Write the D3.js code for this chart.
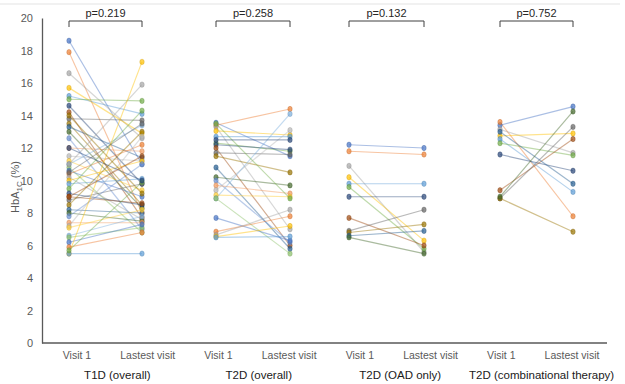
<!DOCTYPE html>
<html>
<head>
<meta charset="utf-8">
<script src="https://cdn.jsdelivr.net/npm/d3@7"></script>
<style>
body { margin: 0; background: #fff; }
text { font-family: "Liberation Sans", Arial, sans-serif; }
</style>
</head>
<body>
<svg id="chart" width="625" height="384"></svg>
<script>
const groups = ['T1D (overall)', 'T2D (overall)', 'T2D (OAD only)', 'T2D (combinational therapy)'];
const visits = ['Visit 1', 'Lastest visit'];
const pValues = ['p=0.219', 'p=0.258', 'p=0.132', 'p=0.752'];
const yTicks = [0, 2, 4, 6, 8, 10, 12, 14, 16, 18, 20];

// HbA1c per patient, visit 1 and latest visit (same order)
const t1dVisit1 = [18.6, 17.9, 16.6, 15.7, 15.2, 15.0, 14.6, 14.2, 13.8, 13.5, 13.3, 13.0, 12.6, 12.0, 11.5, 11.2, 11.0, 10.8, 10.6, 10.4, 10.2, 10.0, 9.8, 9.5, 9.2, 9.0, 8.8, 8.5, 8.2, 8.0, 7.8, 7.4, 7.2, 7.1, 6.6, 6.5, 6.2, 5.9, 11.0, 5.5, 5.5, 5.7, 12.0, 9.0, 10.5, 14.0];
const t1dLast   = [11.0, 8.0, 12.6, 12.9, 14.1, 14.9, 9.8, 7.7, 13.7, 8.5, 11.4, 8.3, 7.0, 11.8, 11.2, 9.4, 13.4, 6.8, 9.0, 12.2, 7.6, 11.2, 10.1, 14.3, 8.5, 8.6, 9.8, 13.0, 8.0, 7.5, 11.0, 7.4, 12.7, 8.2, 7.8, 7.1, 7.3, 6.8, 15.9, 17.3, 5.5, 9.9, 10.0, 11.5, 13.5, 9.2];

const t2dVisit1 = [13.55, 13.4, 13.3, 13.05, 12.7, 12.3, 12.2, 12.0, 11.7, 11.5, 10.8, 10.2, 10.0, 9.7, 9.4, 9.1, 8.9, 8.9, 7.7, 6.85, 6.65, 6.55, 6.5, 13.5, 12.5];
const t2dLast   = [11.5, 14.4, 7.0, 12.8, 12.7, 11.8, 11.9, 6.0, 11.6, 10.5, 5.8, 9.7, 6.2, 9.2, 13.1, 9.0, 14.1, 5.5, 6.3, 7.8, 8.2, 7.2, 6.55, 8.9, 12.5];

const oadVisit1 = [12.2, 11.8, 10.9, 10.2, 9.8, 9.6, 9.0, 7.7, 6.9, 6.8, 6.6, 6.5];
const oadLast   = [12.0, 11.6, 5.6, 6.3, 9.8, 5.8, 9.0, 6.0, 8.2, 7.3, 6.9, 5.5];

const comboVisit1 = [13.4, 13.6, 13.15, 12.75, 12.55, 12.3, 11.6, 9.4, 8.9, 8.9, 13.0, 9.0];
const comboLast   = [14.55, 7.8, 11.7, 12.9, 9.3, 11.55, 10.6, 12.55, 13.3, 6.85, 9.8, 14.25];

const series = [
    [t1dVisit1, t1dLast],
    [t2dVisit1, t2dLast],
    [oadVisit1, oadLast],
    [comboVisit1, comboLast]
];

const palette = ['#4472C4', '#ED7D31', '#A5A5A5', '#FFC000', '#5B9BD5', '#70AD47', '#264478', '#9E480E',
    '#636363', '#997300', '#255E91', '#43682B', '#698ED0', '#F1975A', '#B7B7B7', '#FFCD33', '#7CAFDD', '#8CC168'];

let svg = d3.select('#chart');

let keys = [];
groups.forEach(g => visits.forEach(v => keys.push(g + '|' + v)));

// the four panels are not evenly spaced in the original
let colX = d3.scaleOrdinal()
    .domain(keys)
    .range([69, 142, 216, 290, 349, 424, 500, 573]);
let labelX = d3.scalePoint()
    .domain(keys)
    .range([77, 572]);
let y = d3.scaleLinear()
    .domain([0, 20])
    .range([343, 18]);
let color = d3.scaleOrdinal().range(palette);

// faint frame line at top
svg.append('line')
    .attr('x1', 0).attr('x2', 620)
    .attr('y1', 4).attr('y2', 4)
    .attr('stroke', '#e3e3e3');

// y axis
let yAxis = svg.append('g')
    .attr('transform', 'translate(42,0)')
    .call(d3.axisLeft(y).tickValues(yTicks).tickSize(0).tickPadding(9));
yAxis.select('.domain').attr('stroke', '#595959').attr('stroke-width', 1.3);
yAxis.selectAll('text')
    .attr('fill', '#595959')
    .style('font-size', '11px');

// x axis line + labels
svg.append('line')
    .attr('x1', 42).attr('x2', 607)
    .attr('y1', y(0)).attr('y2', y(0))
    .attr('stroke', '#595959')
    .attr('stroke-width', 1.3);

svg.append('g').selectAll('text')
    .data(keys)
    .enter()
    .append('text')
    .attr('x', d => labelX(d))
    .attr('y', 359)
    .attr('text-anchor', 'middle')
    .attr('fill', '#595959')
    .style('font-size', '10.5px')
    .text(d => d.split('|')[1]);

svg.append('g').selectAll('text')
    .data(groups)
    .enter()
    .append('text')
    .attr('x', g => (labelX(g + '|' + visits[0]) + labelX(g + '|' + visits[1])) / 2 + 5)
    .attr('y', 379)
    .attr('text-anchor', 'middle')
    .attr('fill', '#1a1a1a')
    .style('font-size', '11.5px')
    .text(g => g);

// y title with subscript
let title = svg.append('text')
    .attr('transform', 'translate(19,' + y(9.6) + ') rotate(-90)')
    .attr('text-anchor', 'middle')
    .attr('fill', '#595959')
    .style('font-size', '11px');
title.append('tspan').text('HbA');
title.append('tspan').attr('dy', 3).style('font-size', '8px').text('1C');
title.append('tspan').attr('dy', -3).text(' (%)');

// paired lines and markers
series.forEach((pair, gi) => {
    let g = groups[gi];
    let x1 = colX(g + '|' + visits[0]);
    let x2 = colX(g + '|' + visits[1]);
    let rows = pair[0].map((v, i) => ({ a: v, b: pair[1][i], i: i }));
    let layer = svg.append('g');
    layer.selectAll('line')
        .data(rows)
        .enter()
        .append('line')
        .attr('x1', x1).attr('x2', x2)
        .attr('y1', d => y(d.a)).attr('y2', d => y(d.b))
        .attr('stroke', d => color(d.i))
        .attr('stroke-width', 1.2)
        .attr('stroke-opacity', 0.45);
    [['a', x1], ['b', x2]].forEach(([k, cx]) => {
        layer.selectAll('.m' + k)
            .data(rows)
            .enter()
            .append('ellipse')
            .attr('class', 'm' + k)
            .attr('cx', cx)
            .attr('cy', d => y(d[k]))
            .attr('rx', 2.2).attr('ry', 2.7)
            .attr('fill', d => color(d.i))
            .attr('fill-opacity', 0.7)
            .attr('stroke', d => d3.color(color(d.i)).darker(0.6))
            .attr('stroke-opacity', 0.6)
            .attr('stroke-width', 0.6);
    });

    // bracket + p value
    let top = y(20) + 3;
    svg.append('path')
        .attr('d', 'M' + x1 + ',' + (top + 6) + 'V' + top + 'H' + x2 + 'V' + (top + 6))
        .attr('fill', 'none')
        .attr('stroke', '#404040')
        .attr('stroke-width', 1);
    svg.append('text')
        .attr('x', (x1 + x2) / 2)
        .attr('y', top - 4)
        .attr('text-anchor', 'middle')
        .attr('fill', '#262626')
        .style('font-size', '11px')
        .text(pValues[gi]);
});
</script>
</body>
</html>
